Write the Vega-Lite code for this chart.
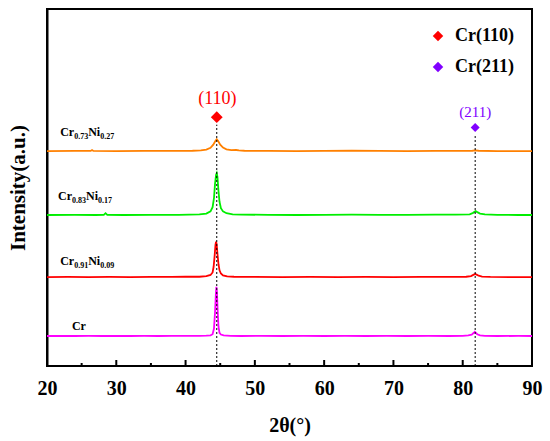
{
  "$schema": "https://vega.github.io/schema/vega-lite/v6.json",
  "description": "XRD patterns of Cr and Cr-Ni films",
  "width": 485,
  "height": 357,
  "autosize": {"type": "none"},
  "padding": {"left": 47, "top": 9, "right": 18, "bottom": 75},
  "config": {
    "view": {"stroke": "black", "strokeWidth": 2},
    "font": "Liberation Serif",
    "axis": {"grid": false, "domainColor": "black", "domainWidth": 2}
  },
  "datasets": {
    "xrd": [
      {"s": "Cr", "x": 20, "y": 8.4}, {"s": "Cr", "x": 22, "y": 8.45}, {"s": "Cr", "x": 24, "y": 8.4}, {"s": "Cr", "x": 26, "y": 8.42},
      {"s": "Cr", "x": 28, "y": 8.4}, {"s": "Cr", "x": 30, "y": 8.45}, {"s": "Cr", "x": 32, "y": 8.4}, {"s": "Cr", "x": 34, "y": 8.42},
      {"s": "Cr", "x": 36, "y": 8.4}, {"s": "Cr", "x": 38, "y": 8.45}, {"s": "Cr", "x": 40, "y": 8.42}, {"s": "Cr", "x": 42, "y": 8.45},
      {"s": "Cr", "x": 43, "y": 8.5}, {"s": "Cr", "x": 43.6, "y": 8.6}, {"s": "Cr", "x": 43.9, "y": 8.9}, {"s": "Cr", "x": 44.1, "y": 10.5},
      {"s": "Cr", "x": 44.25, "y": 15}, {"s": "Cr", "x": 44.38, "y": 20.5}, {"s": "Cr", "x": 44.45, "y": 22.2}, {"s": "Cr", "x": 44.52, "y": 21},
      {"s": "Cr", "x": 44.62, "y": 16}, {"s": "Cr", "x": 44.75, "y": 11}, {"s": "Cr", "x": 44.9, "y": 9.3}, {"s": "Cr", "x": 45.1, "y": 8.8},
      {"s": "Cr", "x": 45.5, "y": 8.55}, {"s": "Cr", "x": 46.5, "y": 8.45}, {"s": "Cr", "x": 48, "y": 8.4}, {"s": "Cr", "x": 51, "y": 8.42},
      {"s": "Cr", "x": 54, "y": 8.4}, {"s": "Cr", "x": 57, "y": 8.43}, {"s": "Cr", "x": 60, "y": 8.4}, {"s": "Cr", "x": 63, "y": 8.42},
      {"s": "Cr", "x": 66, "y": 8.4}, {"s": "Cr", "x": 69, "y": 8.43}, {"s": "Cr", "x": 72, "y": 8.4}, {"s": "Cr", "x": 75, "y": 8.42},
      {"s": "Cr", "x": 78, "y": 8.4}, {"s": "Cr", "x": 80, "y": 8.45}, {"s": "Cr", "x": 80.8, "y": 8.55}, {"s": "Cr", "x": 81.3, "y": 8.8},
      {"s": "Cr", "x": 81.6, "y": 9.3}, {"s": "Cr", "x": 81.75, "y": 9.6}, {"s": "Cr", "x": 81.9, "y": 9.3}, {"s": "Cr", "x": 82.1, "y": 8.9},
      {"s": "Cr", "x": 82.5, "y": 8.6}, {"s": "Cr", "x": 83.2, "y": 8.45}, {"s": "Cr", "x": 85, "y": 8.4}, {"s": "Cr", "x": 88, "y": 8.42},
      {"s": "Cr", "x": 90, "y": 8.4},

      {"s": "Cr0.91Ni0.09", "x": 20, "y": 24.9}, {"s": "Cr0.91Ni0.09", "x": 23, "y": 24.95}, {"s": "Cr0.91Ni0.09", "x": 26, "y": 24.9},
      {"s": "Cr0.91Ni0.09", "x": 29, "y": 24.95}, {"s": "Cr0.91Ni0.09", "x": 32, "y": 24.9}, {"s": "Cr0.91Ni0.09", "x": 35, "y": 24.95},
      {"s": "Cr0.91Ni0.09", "x": 38, "y": 24.95}, {"s": "Cr0.91Ni0.09", "x": 40, "y": 25.0}, {"s": "Cr0.91Ni0.09", "x": 42, "y": 25.0},
      {"s": "Cr0.91Ni0.09", "x": 43, "y": 25.15}, {"s": "Cr0.91Ni0.09", "x": 43.6, "y": 25.5}, {"s": "Cr0.91Ni0.09", "x": 43.9, "y": 26.2},
      {"s": "Cr0.91Ni0.09", "x": 44.05, "y": 27.8}, {"s": "Cr0.91Ni0.09", "x": 44.2, "y": 31}, {"s": "Cr0.91Ni0.09", "x": 44.32, "y": 34},
      {"s": "Cr0.91Ni0.09", "x": 44.4, "y": 34.8}, {"s": "Cr0.91Ni0.09", "x": 44.48, "y": 34.2}, {"s": "Cr0.91Ni0.09", "x": 44.6, "y": 31.5},
      {"s": "Cr0.91Ni0.09", "x": 44.75, "y": 28.5}, {"s": "Cr0.91Ni0.09", "x": 44.9, "y": 26.8}, {"s": "Cr0.91Ni0.09", "x": 45.1, "y": 25.9},
      {"s": "Cr0.91Ni0.09", "x": 45.4, "y": 25.4}, {"s": "Cr0.91Ni0.09", "x": 46, "y": 25.1}, {"s": "Cr0.91Ni0.09", "x": 47, "y": 25.0},
      {"s": "Cr0.91Ni0.09", "x": 50, "y": 24.95}, {"s": "Cr0.91Ni0.09", "x": 54, "y": 24.9}, {"s": "Cr0.91Ni0.09", "x": 58, "y": 24.95},
      {"s": "Cr0.91Ni0.09", "x": 62, "y": 24.9}, {"s": "Cr0.91Ni0.09", "x": 66, "y": 24.95}, {"s": "Cr0.91Ni0.09", "x": 70, "y": 24.9},
      {"s": "Cr0.91Ni0.09", "x": 74, "y": 24.95}, {"s": "Cr0.91Ni0.09", "x": 78, "y": 24.95}, {"s": "Cr0.91Ni0.09", "x": 80.5, "y": 25.0},
      {"s": "Cr0.91Ni0.09", "x": 81.2, "y": 25.2}, {"s": "Cr0.91Ni0.09", "x": 81.6, "y": 25.6}, {"s": "Cr0.91Ni0.09", "x": 81.8, "y": 25.8},
      {"s": "Cr0.91Ni0.09", "x": 82.0, "y": 25.6}, {"s": "Cr0.91Ni0.09", "x": 82.3, "y": 25.3}, {"s": "Cr0.91Ni0.09", "x": 82.8, "y": 25.05},
      {"s": "Cr0.91Ni0.09", "x": 84, "y": 24.95}, {"s": "Cr0.91Ni0.09", "x": 87, "y": 24.9}, {"s": "Cr0.91Ni0.09", "x": 90, "y": 24.9},

      {"s": "Cr0.83Ni0.17", "x": 20, "y": 42.3}, {"s": "Cr0.83Ni0.17", "x": 24, "y": 42.35}, {"s": "Cr0.83Ni0.17", "x": 27, "y": 42.3},
      {"s": "Cr0.83Ni0.17", "x": 28.2, "y": 42.35}, {"s": "Cr0.83Ni0.17", "x": 28.45, "y": 42.8}, {"s": "Cr0.83Ni0.17", "x": 28.7, "y": 42.35},
      {"s": "Cr0.83Ni0.17", "x": 31, "y": 42.3}, {"s": "Cr0.83Ni0.17", "x": 35, "y": 42.35}, {"s": "Cr0.83Ni0.17", "x": 39, "y": 42.35},
      {"s": "Cr0.83Ni0.17", "x": 42, "y": 42.45}, {"s": "Cr0.83Ni0.17", "x": 43, "y": 42.7}, {"s": "Cr0.83Ni0.17", "x": 43.6, "y": 43.3},
      {"s": "Cr0.83Ni0.17", "x": 43.9, "y": 44.5}, {"s": "Cr0.83Ni0.17", "x": 44.1, "y": 47}, {"s": "Cr0.83Ni0.17", "x": 44.25, "y": 51},
      {"s": "Cr0.83Ni0.17", "x": 44.4, "y": 53.5}, {"s": "Cr0.83Ni0.17", "x": 44.5, "y": 54.0}, {"s": "Cr0.83Ni0.17", "x": 44.6, "y": 53},
      {"s": "Cr0.83Ni0.17", "x": 44.75, "y": 49}, {"s": "Cr0.83Ni0.17", "x": 44.9, "y": 46}, {"s": "Cr0.83Ni0.17", "x": 45.1, "y": 44.2},
      {"s": "Cr0.83Ni0.17", "x": 45.4, "y": 43.3}, {"s": "Cr0.83Ni0.17", "x": 45.9, "y": 42.8}, {"s": "Cr0.83Ni0.17", "x": 46.8, "y": 42.5},
      {"s": "Cr0.83Ni0.17", "x": 48, "y": 42.4}, {"s": "Cr0.83Ni0.17", "x": 52, "y": 42.35}, {"s": "Cr0.83Ni0.17", "x": 56, "y": 42.3},
      {"s": "Cr0.83Ni0.17", "x": 60, "y": 42.35}, {"s": "Cr0.83Ni0.17", "x": 64, "y": 42.4}, {"s": "Cr0.83Ni0.17", "x": 68, "y": 42.35},
      {"s": "Cr0.83Ni0.17", "x": 72, "y": 42.35}, {"s": "Cr0.83Ni0.17", "x": 76, "y": 42.4}, {"s": "Cr0.83Ni0.17", "x": 79, "y": 42.4},
      {"s": "Cr0.83Ni0.17", "x": 81, "y": 42.5}, {"s": "Cr0.83Ni0.17", "x": 81.5, "y": 42.9}, {"s": "Cr0.83Ni0.17", "x": 81.85, "y": 43.4},
      {"s": "Cr0.83Ni0.17", "x": 82.1, "y": 43.1}, {"s": "Cr0.83Ni0.17", "x": 82.5, "y": 42.7}, {"s": "Cr0.83Ni0.17", "x": 83.2, "y": 42.45},
      {"s": "Cr0.83Ni0.17", "x": 85, "y": 42.35}, {"s": "Cr0.83Ni0.17", "x": 88, "y": 42.3}, {"s": "Cr0.83Ni0.17", "x": 90, "y": 42.3},

      {"s": "Cr0.73Ni0.27", "x": 20, "y": 60.2}, {"s": "Cr0.73Ni0.27", "x": 24, "y": 60.25}, {"s": "Cr0.73Ni0.27", "x": 26.3, "y": 60.25},
      {"s": "Cr0.73Ni0.27", "x": 26.5, "y": 60.5}, {"s": "Cr0.73Ni0.27", "x": 26.7, "y": 60.25}, {"s": "Cr0.73Ni0.27", "x": 30, "y": 60.2},
      {"s": "Cr0.73Ni0.27", "x": 34, "y": 60.25}, {"s": "Cr0.73Ni0.27", "x": 38, "y": 60.25}, {"s": "Cr0.73Ni0.27", "x": 41, "y": 60.3},
      {"s": "Cr0.73Ni0.27", "x": 42.2, "y": 60.4}, {"s": "Cr0.73Ni0.27", "x": 43, "y": 60.6}, {"s": "Cr0.73Ni0.27", "x": 43.6, "y": 61.1},
      {"s": "Cr0.73Ni0.27", "x": 44.0, "y": 62.0}, {"s": "Cr0.73Ni0.27", "x": 44.3, "y": 63.0}, {"s": "Cr0.73Ni0.27", "x": 44.5, "y": 63.5},
      {"s": "Cr0.73Ni0.27", "x": 44.7, "y": 63.0}, {"s": "Cr0.73Ni0.27", "x": 45.0, "y": 62.0}, {"s": "Cr0.73Ni0.27", "x": 45.4, "y": 61.2},
      {"s": "Cr0.73Ni0.27", "x": 45.9, "y": 60.7}, {"s": "Cr0.73Ni0.27", "x": 46.6, "y": 60.45}, {"s": "Cr0.73Ni0.27", "x": 47.3, "y": 60.5},
      {"s": "Cr0.73Ni0.27", "x": 47.7, "y": 60.4}, {"s": "Cr0.73Ni0.27", "x": 48.5, "y": 60.3}, {"s": "Cr0.73Ni0.27", "x": 52, "y": 60.25},
      {"s": "Cr0.73Ni0.27", "x": 56, "y": 60.2}, {"s": "Cr0.73Ni0.27", "x": 60, "y": 60.25}, {"s": "Cr0.73Ni0.27", "x": 64, "y": 60.3},
      {"s": "Cr0.73Ni0.27", "x": 68, "y": 60.25}, {"s": "Cr0.73Ni0.27", "x": 72, "y": 60.2}, {"s": "Cr0.73Ni0.27", "x": 76, "y": 60.25},
      {"s": "Cr0.73Ni0.27", "x": 80, "y": 60.25}, {"s": "Cr0.73Ni0.27", "x": 81.4, "y": 60.3}, {"s": "Cr0.73Ni0.27", "x": 81.8, "y": 60.4},
      {"s": "Cr0.73Ni0.27", "x": 82.3, "y": 60.3}, {"s": "Cr0.73Ni0.27", "x": 85, "y": 60.2}, {"s": "Cr0.73Ni0.27", "x": 90, "y": 60.2}
    ],
    "labels": [
      {"t": "Cr", "kind": "main", "x": 21.9, "y": 64.4}, {"t": "0.73", "kind": "sub", "x": 23.92, "y": 64.4},
      {"t": "Ni", "kind": "main", "x": 25.94, "y": 64.4}, {"t": "0.27", "kind": "sub", "x": 27.67, "y": 64.4},
      {"t": "Cr", "kind": "main", "x": 21.6, "y": 46.5}, {"t": "0.83", "kind": "sub", "x": 23.62, "y": 46.5},
      {"t": "Ni", "kind": "main", "x": 25.64, "y": 46.5}, {"t": "0.17", "kind": "sub", "x": 27.37, "y": 46.5},
      {"t": "Cr", "kind": "main", "x": 21.9, "y": 28.3}, {"t": "0.91", "kind": "sub", "x": 23.92, "y": 28.3},
      {"t": "Ni", "kind": "main", "x": 25.94, "y": 28.3}, {"t": "0.09", "kind": "sub", "x": 27.67, "y": 28.3},
      {"t": "Cr", "kind": "main", "x": 23.6, "y": 10.1}
    ]
  },
  "layer": [
    {
      "data": {"name": "xrd"},
      "mark": {"type": "line", "strokeWidth": 1.8},
      "encoding": {
        "x": {
          "field": "x", "type": "quantitative",
          "scale": {"domain": [20, 90], "nice": false},
          "axis": {
            "orient": "bottom",
            "title": "2θ(°)",
            "values": [20, 30, 40, 50, 60, 70, 80, 90],
            "ticks": false, "domain": false,
            "labelFlush": false,
            "labelFontSize": 20, "labelFontWeight": "bold", "labelColor": "black", "labelPadding": 12,
            "titleFontSize": 20, "titleFontWeight": "bold", "titleColor": "black", "titlePadding": 17
          }
        },
        "y": {
          "field": "y", "type": "quantitative",
          "scale": {"domain": [0, 100], "nice": false},
          "axis": {
            "title": "Intensity(a.u.)", "labels": false, "ticks": false,
            "titleFontSize": 21, "titleFontWeight": "bold", "titleColor": "black", "titlePadding": 19
          }
        },
        "color": {
          "field": "s", "type": "nominal",
          "scale": {"domain": ["Cr", "Cr0.91Ni0.09", "Cr0.83Ni0.17", "Cr0.73Ni0.27"], "range": ["#ff00ff", "#ff0000", "#00ee00", "#ff8000"]},
          "legend": null
        }
      }
    },
    {
      "data": {"values": [{"v": 30}, {"v": 40}, {"v": 50}, {"v": 60}, {"v": 70}, {"v": 80}]},
      "mark": {"type": "tick", "orient": "vertical", "size": 6, "thickness": 2, "color": "black", "opacity": 1},
      "encoding": {
        "x": {"field": "v", "type": "quantitative"},
        "y": {"datum": 0.84, "type": "quantitative"}
      }
    },
    {
      "data": {"values": [{"v": 25}, {"v": 35}, {"v": 45}, {"v": 55}, {"v": 65}, {"v": 75}, {"v": 85}]},
      "mark": {"type": "tick", "orient": "vertical", "size": 3, "thickness": 2, "color": "black", "opacity": 1},
      "encoding": {
        "x": {"field": "v", "type": "quantitative"},
        "y": {"datum": 0.42, "type": "quantitative"}
      }
    },
    {
      "data": {"values": [{"x": 44.5, "y0": 0, "y1": 67.6}, {"x": 81.8, "y0": 0, "y1": 64.9}]},
      "mark": {"type": "rule", "color": "black", "strokeWidth": 1, "strokeDash": [2, 2]},
      "encoding": {
        "x": {"field": "x", "type": "quantitative"},
        "y": {"field": "y0", "type": "quantitative"},
        "y2": {"field": "y1"}
      }
    },
    {
      "data": {"values": [{"peak": "Cr(110)", "x": 44.5, "y": 69.7, "sz": "big"}, {"peak": "Cr(211)", "x": 81.8, "y": 66.8, "sz": "small"}]},
      "mark": {"type": "point", "shape": "diamond", "filled": true, "opacity": 1},
      "encoding": {
        "x": {"field": "x", "type": "quantitative"},
        "y": {"field": "y", "type": "quantitative"},
        "size": {"field": "sz", "type": "nominal", "scale": {"domain": ["big", "small"], "range": [140, 80]}, "legend": null},
        "color": {
          "field": "peak", "type": "nominal",
          "scale": {"domain": ["Cr(110)", "Cr(211)"], "range": ["#ff0000", "#8000ff"]},
          "legend": {
            "title": null, "orient": "none", "legendX": 382, "legendY": 18, "padding": 0,
            "symbolType": "diamond", "symbolSize": 110, "symbolStrokeWidth": 0, "symbolOpacity": 1,
            "labelFontSize": 18, "labelFontWeight": "bold", "labelColor": "black",
            "labelOffset": 8, "rowPadding": 13
          }
        }
      }
    },
    {
      "data": {"values": [{"t": "(110)", "x": 44.6, "y": 74.8}]},
      "mark": {"type": "text", "color": "#ff0000", "fontSize": 18},
      "encoding": {
        "x": {"field": "x", "type": "quantitative"},
        "y": {"field": "y", "type": "quantitative"},
        "text": {"field": "t"}
      }
    },
    {
      "data": {"values": [{"t": "(211)", "x": 81.8, "y": 71.1}]},
      "mark": {"type": "text", "color": "#8000ff", "fontSize": 15},
      "encoding": {
        "x": {"field": "x", "type": "quantitative"},
        "y": {"field": "y", "type": "quantitative"},
        "text": {"field": "t"}
      }
    },
    {
      "data": {"name": "labels"},
      "transform": [{"filter": "datum.kind === 'main'"}],
      "mark": {"type": "text", "align": "left", "baseline": "alphabetic", "fontSize": 12, "fontWeight": "bold", "color": "black"},
      "encoding": {
        "x": {"field": "x", "type": "quantitative"},
        "y": {"field": "y", "type": "quantitative"},
        "text": {"field": "t"}
      }
    },
    {
      "data": {"name": "labels"},
      "transform": [{"filter": "datum.kind === 'sub'"}],
      "mark": {"type": "text", "align": "left", "baseline": "alphabetic", "dy": 3, "fontSize": 8, "fontWeight": "bold", "color": "black"},
      "encoding": {
        "x": {"field": "x", "type": "quantitative"},
        "y": {"field": "y", "type": "quantitative"},
        "text": {"field": "t"}
      }
    }
  ],
  "resolve": {"scale": {"color": "independent"}}
}
